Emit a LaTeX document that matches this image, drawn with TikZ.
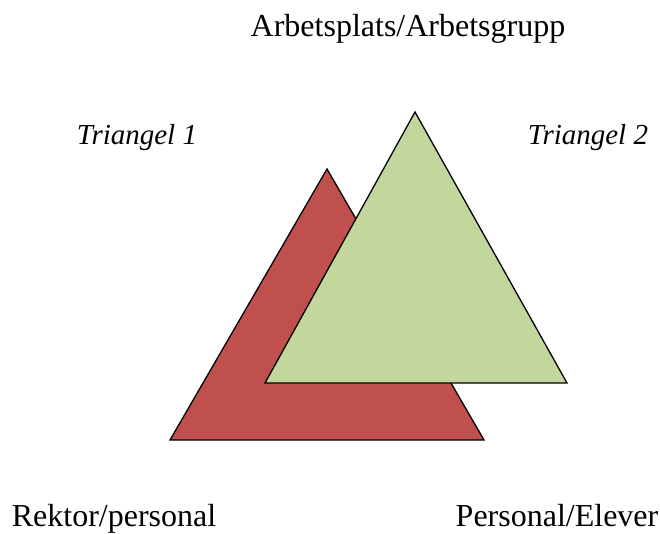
\documentclass[tikz,border=0pt]{standalone}
\usepackage{fontspec}
\setmainfont{Liberation Serif}
\definecolor{tred}{HTML}{C0504D}
\definecolor{tgreen}{HTML}{C3D69B}
\begin{document}
\begin{tikzpicture}[x=1pt,y=-1pt,
  lbl/.style={font=\fontsize{32}{36}\selectfont, anchor=base, inner sep=0pt},
  ilbl/.style={font=\fontsize{29}{34}\selectfont\itshape, anchor=base, inner sep=0pt},
  tri/.style={draw=black, line width=1.3pt, line join=miter}]
\useasboundingbox (0,0) rectangle (660,534);
\coordinate (r1) at (327,169);
\coordinate (r2) at (170,440);
\coordinate (r3) at (484,440);
\coordinate (g1) at (415,112);
\coordinate (g2) at (265,383);
\coordinate (g3) at (567,383);
\filldraw[tri, fill=tred] (r1) -- (r2) -- (r3) -- cycle;
\filldraw[tri, fill=tgreen] (g1) -- (g2) -- (g3) -- cycle;
\node[lbl] (top) at (408,37) {Arbetsplats/Arbetsgrupp};
\node[ilbl] (t1) at (137,145) {Triangel 1};
\node[ilbl] (t2) at (588,145) {Triangel 2};
\node[lbl] (bl) at (114,526.5) {Rektor/personal};
\node[lbl] (br) at (557,526.5) {Personal/Elever};
\end{tikzpicture}
\end{document}
